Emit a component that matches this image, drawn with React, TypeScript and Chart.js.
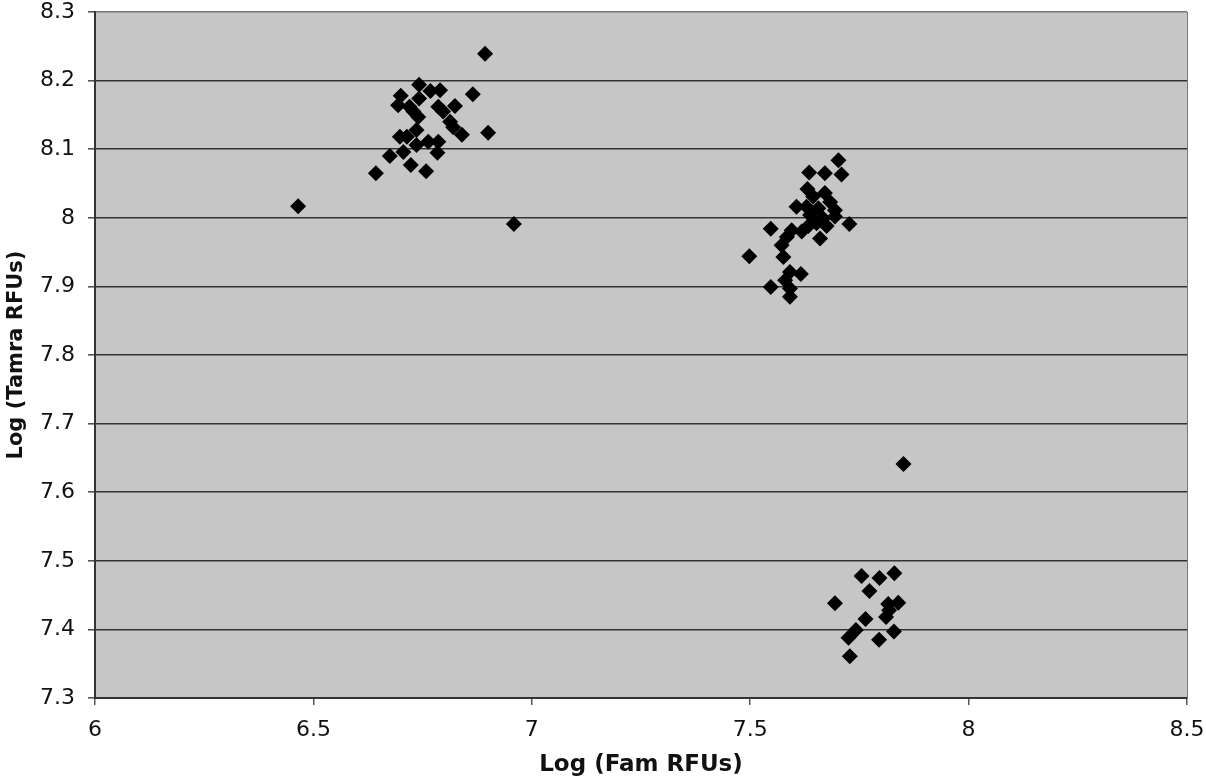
import React, { useEffect, useRef } from "react";
import { Chart, registerables } from "chart.js";

Chart.register(...registerables);

// Log (Fam RFUs)
const famValues: number[] = [
  // cluster 1 (upper left)
  6.893, 6.742, 6.768, 6.790, 6.865, 6.700, 6.742, 6.694, 6.720, 6.786,
  6.824, 6.729, 6.797, 6.740, 6.813, 6.820, 6.840, 6.900, 6.736, 6.698,
  6.714, 6.736, 6.763, 6.786, 6.784, 6.706, 6.675, 6.723, 6.758, 6.643,
  // outliers
  6.465, 6.959,
  // cluster 2 (middle right)
  7.702, 7.635, 7.671, 7.709, 7.631, 7.671, 7.644, 7.683, 7.606, 7.629,
  7.656, 7.694, 7.637, 7.667, 7.694, 7.727, 7.652, 7.633, 7.675, 7.547,
  7.595, 7.618, 7.660, 7.584, 7.572, 7.576, 7.498, 7.591, 7.616, 7.580,
  7.547, 7.591, 7.591,
  // cluster 3 (lower right)
  7.851, 7.755, 7.796, 7.830, 7.773, 7.694, 7.816, 7.839, 7.818, 7.811,
  7.764, 7.742, 7.829, 7.725, 7.795, 7.728,
];

// Log (Tamra RFUs)
const tamraValues: number[] = [
  8.239, 8.194, 8.185, 8.186, 8.180, 8.178, 8.174, 8.164, 8.162, 8.162,
  8.163, 8.155, 8.155, 8.147, 8.140, 8.132, 8.121, 8.124, 8.128, 8.118,
  8.118, 8.106, 8.111, 8.111, 8.095, 8.096, 8.090, 8.077, 8.068, 8.065,
  8.017, 7.991,
  8.084, 8.066, 8.065, 8.063, 8.042, 8.036, 8.031, 8.023, 8.016, 8.016,
  8.014, 8.011, 8.004, 7.999, 8.002, 7.991, 7.992, 7.988, 7.988, 7.984,
  7.982, 7.980, 7.970, 7.972, 7.960, 7.943, 7.944, 7.921, 7.918, 7.909,
  7.899, 7.897, 7.885,
  7.641, 7.478, 7.475, 7.482, 7.456, 7.438, 7.437, 7.439, 7.428, 7.418,
  7.415, 7.399, 7.397, 7.388, 7.385, 7.361,
];

const xTitle = "Log (Fam RFUs)";
const yTitle = "Log (Tamra RFUs)";
const xMin = 6, xMax = 8.5, xStep = 0.5;
const yMin = 7.3, yMax = 8.3, yStep = 0.1;

const fmt = (v: number) => String(parseFloat(Number(v).toFixed(1)));

const plotBg = {
  id: "plotBg",
  beforeDraw(chart: any) {
    const { ctx, chartArea } = chart;
    if (!chartArea) return;
    ctx.save();
    ctx.fillStyle = "#c6c6c6";
    ctx.fillRect(chartArea.left, chartArea.top, chartArea.right - chartArea.left, chartArea.bottom - chartArea.top);
    ctx.restore();
  },
  afterDatasetsDraw(chart: any) {
    const { ctx, chartArea } = chart;
    ctx.save();
    ctx.strokeStyle = "#777";
    ctx.lineWidth = 1;
    ctx.beginPath();
    ctx.moveTo(chartArea.right + 0.5, chartArea.top);
    ctx.lineTo(chartArea.right + 0.5, chartArea.bottom);
    ctx.stroke();
    ctx.restore();
  },
};

export default function App() {
  const ref = useRef<HTMLCanvasElement | null>(null);
  useEffect(() => {
    if (!ref.current) return;
    const data = famValues.map((x, i) => ({ x, y: tamraValues[i] }));
    const chart = new Chart(ref.current, {
      type: "scatter",
      data: {
        datasets: [
          {
            data,
            pointStyle: "rectRot",
            pointRadius: 8,
            pointHoverRadius: 8,
            backgroundColor: "#000",
            borderColor: "#000",
            borderWidth: 0,
          },
        ],
      },
      options: {
        responsive: false,
        animation: false,
        events: [],
        layout: { padding: { top: 0, right: 0, left: 0, bottom: 0 } },
        plugins: { legend: { display: false }, tooltip: { enabled: false } },
        scales: {
          x: {
            type: "linear",
            min: xMin,
            max: xMax,
            afterFit: (s: any) => {
              s.height = 81;
              s.paddingLeft = 0;
              s.paddingRight = 19;
            },
            ticks: {
              stepSize: xStep,
              callback: (v: any) => fmt(v),
              font: { family: "DejaVu Sans", size: 22, lineHeight: 1.09 },
              color: "#111",
              padding: 13,
              maxRotation: 0,
            },
            grid: { drawOnChartArea: false, drawTicks: true, tickLength: 7, color: "#555", lineWidth: 1.5 },
            border: { display: true, color: "#333", width: 2 },
            title: {
              display: true,
              text: xTitle,
              font: { family: "DejaVu Sans", size: 23, weight: "bold" },
              color: "#111",
              padding: { top: 0, bottom: 0 },
            },
          },
          y: {
            type: "linear",
            min: yMin,
            max: yMax,
            afterFit: (s: any) => {
              s.width = 95;
              s.paddingTop = 12;
              s.paddingBottom = 0;
            },
            ticks: {
              stepSize: yStep,
              callback: (v: any) => fmt(v),
              font: { family: "DejaVu Sans", size: 22, lineHeight: 1.09 },
              color: "#111",
              padding: 13,
            },
            grid: {
              color: (c: any) => (c.tick && Math.abs(c.tick.value - yMax) < 1e-6 ? "#777" : "#333"),
              lineWidth: 1.6,
              drawTicks: true,
              tickLength: 7,
              tickColor: "#555",
            },
            border: { display: true, color: "#333", width: 2 },
            title: {
              display: true,
              text: yTitle,
              font: { family: "DejaVu Sans", size: 21, weight: "bold" },
              color: "#111",
              padding: { top: 4, bottom: 0 },
            },
          },
        },
      },
      plugins: [plotBg],
    });
    return () => chart.destroy();
  }, []);
  return (
    <div style={{ position: "absolute", left: 0, top: 0, width: 1206, height: 779, background: "#fff" }}>
      <canvas ref={ref} width={1206} height={779} style={{ display: "block" }} />
    </div>
  );
}
